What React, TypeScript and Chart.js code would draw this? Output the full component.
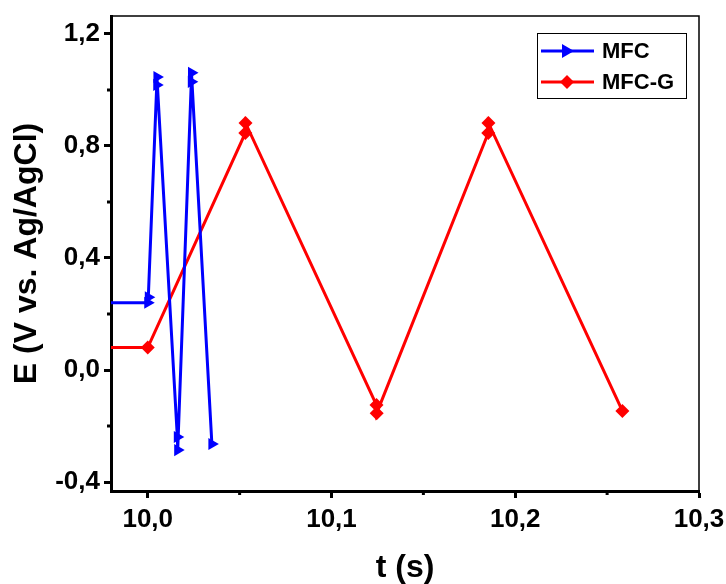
import React, { useEffect, useRef } from 'react';
import { Chart, registerables } from 'chart.js';
Chart.register(...registerables);

// MFC series (time in s, potential in V vs Ag/AgCl)
const mfcT = [9.95, 10.0, 10.0003, 10.0049, 10.005, 10.0161, 10.0163, 10.0237, 10.0238, 10.0349];
const mfcE = [0.24, 0.24, 0.26, 1.018, 1.046, -0.239, -0.286, 1.029, 1.061, -0.264];

// MFC-G series
const mfcgT = [9.95, 10.0, 10.0531, 10.0532, 10.1245, 10.1246, 10.1853, 10.1854, 10.2583];
const mfcgE = [0.08, 0.08, 0.846, 0.882, -0.125, -0.154, 0.846, 0.882, -0.146];

const xMajorTicks = [10.0, 10.1, 10.2, 10.3];
const xMinorTicks = [10.05, 10.15, 10.25];
const yMajorTicks = [-0.4, 0.0, 0.4, 0.8, 1.2];
const yMinorTicks = [-0.2, 0.2, 0.6, 1.0];

const seriesNames = ['MFC', 'MFC-G'];
const FONT = '"Liberation Sans", Arial, sans-serif';

const fmt = (v: number, d: number) => v.toFixed(d).replace('.', ',');

const framePlugin = {
  id: 'frame',
  afterDraw(chart: any) {
    const { ctx, chartArea: a, scales } = chart;
    ctx.save();
    ctx.strokeStyle = '#000';
    ctx.lineWidth = 1.5;
    ctx.beginPath();
    ctx.moveTo(a.left, a.top);
    ctx.lineTo(a.right, a.top);
    ctx.lineTo(a.right, a.bottom);
    ctx.stroke();
    // minor ticks
    ctx.lineWidth = 3;
    ctx.beginPath();
    xMinorTicks.forEach((v) => {
      const px = scales.x.getPixelForValue(v);
      ctx.moveTo(px, a.bottom);
      ctx.lineTo(px, a.bottom + 4);
    });
    yMinorTicks.forEach((v) => {
      const py = scales.y.getPixelForValue(v);
      ctx.moveTo(a.left, py);
      ctx.lineTo(a.left - 4, py);
    });
    ctx.stroke();

    // legend
    const bx = 537, by = 33, bw = 149, bh = 65;
    ctx.fillStyle = '#fff';
    ctx.fillRect(bx, by, bw, bh);
    ctx.lineWidth = 1;
    ctx.strokeStyle = '#000';
    ctx.strokeRect(bx + 0.5, by + 0.5, bw, bh);
    const ds = chart.data.datasets;
    const rows = [51, 82];
    ds.forEach((d: any, i: number) => {
      const y = rows[i];
      ctx.strokeStyle = d.borderColor;
      ctx.lineWidth = 3;
      ctx.beginPath();
      ctx.moveTo(541, y);
      ctx.lineTo(594, y);
      ctx.stroke();
      ctx.fillStyle = d.pointBackgroundColor;
      ctx.beginPath();
      if (i === 0) {
        ctx.moveTo(574, y);
        ctx.lineTo(562, y - 7);
        ctx.lineTo(562, y + 7);
      } else {
        ctx.moveTo(567, y - 7);
        ctx.lineTo(574, y);
        ctx.lineTo(567, y + 7);
        ctx.lineTo(560, y);
      }
      ctx.closePath();
      ctx.fill();
      ctx.fillStyle = '#000';
      ctx.font = `bold 22px ${FONT}`;
      ctx.textBaseline = 'middle';
      ctx.textAlign = 'left';
      ctx.fillText(d.label, 602, y + 1);
    });
    ctx.restore();
  },
};

export default function App() {
  const ref = useRef<HTMLCanvasElement>(null);
  useEffect(() => {
    document.body.style.margin = '0';
    const chart = new Chart(ref.current!, {
      type: 'line',
      data: {
        datasets: [
          {
            label: seriesNames[0],
            data: mfcT.map((t, i) => ({ x: t, y: mfcE[i] })),
            borderColor: '#0000ff',
            backgroundColor: '#0000ff',
            pointBackgroundColor: '#0000ff',
            pointBorderColor: '#0000ff',
            borderWidth: 3,
            pointStyle: 'triangle',
            rotation: 90,
            pointRadius: 7,
            pointBorderWidth: 0,
            tension: 0,
          },
          {
            label: seriesNames[1],
            data: mfcgT.map((t, i) => ({ x: t, y: mfcgE[i] })),
            borderColor: '#ff0000',
            backgroundColor: '#ff0000',
            pointBackgroundColor: '#ff0000',
            pointBorderColor: '#ff0000',
            borderWidth: 3,
            pointStyle: 'rectRot',
            pointRadius: 7,
            pointBorderWidth: 0,
            tension: 0,
          },
        ],
      },
      options: {
        responsive: false,
        animation: false,
        layout: { padding: { top: 16, right: 27, left: 0, bottom: 0 } },
        plugins: { legend: { display: false }, tooltip: { enabled: false } },
        scales: {
          x: {
            type: 'linear',
            min: 9.98,
            max: 10.3,
            afterBuildTicks: (s: any) => {
              s.ticks = xMajorTicks.map((v) => ({ value: v }));
            },
            afterFit: (s: any) => {
              s.height = 93;
              s.paddingLeft = 0;
              s.paddingRight = 0;
            },
            ticks: {
              callback: (v: any) => fmt(Number(v), 1),
              color: '#000',
              font: { family: FONT, size: 26, weight: 'bold' },
              padding: 6,
              maxRotation: 0,
              autoSkip: false,
            },
            grid: { drawOnChartArea: false, drawTicks: true, tickLength: 7, tickWidth: 3, tickColor: '#000' },
            border: { display: true, width: 3, color: '#000' },
            title: {
              display: true,
              text: 't (s)',
              color: '#000',
              font: { family: FONT, size: 32, weight: 'bold', lineHeight: 1 },
              padding: { bottom: 0, top: 0 },
            },
          },
          y: {
            type: 'linear',
            min: -0.432,
            max: 1.264,
            afterBuildTicks: (s: any) => {
              s.ticks = yMajorTicks.map((v) => ({ value: v }));
            },
            afterFit: (s: any) => {
              s.width = 111;
              s.paddingTop = 0;
              s.paddingBottom = 0;
            },
            ticks: {
              callback: (v: any) => fmt(Number(v), 1),
              color: '#000',
              font: { family: FONT, size: 26, weight: 'bold' },
              padding: 4,
              autoSkip: false,
            },
            grid: { drawOnChartArea: false, drawTicks: true, tickLength: 7, tickWidth: 3, tickColor: '#000' },
            border: { display: true, width: 3, color: '#000' },
            title: {
              display: true,
              text: 'E (V vs. Ag/AgCl)',
              color: '#000',
              font: { family: FONT, size: 32, weight: 'bold', lineHeight: 1 },
              padding: { top: 11, bottom: 0 },
            },
          },
        },
      },
      plugins: [framePlugin],
    });
    return () => chart.destroy();
  }, []);
  return (
    <div style={{ width: 726, height: 584 }}>
      <canvas ref={ref} width={726} height={584} style={{ display: 'block' }} />
    </div>
  );
}
